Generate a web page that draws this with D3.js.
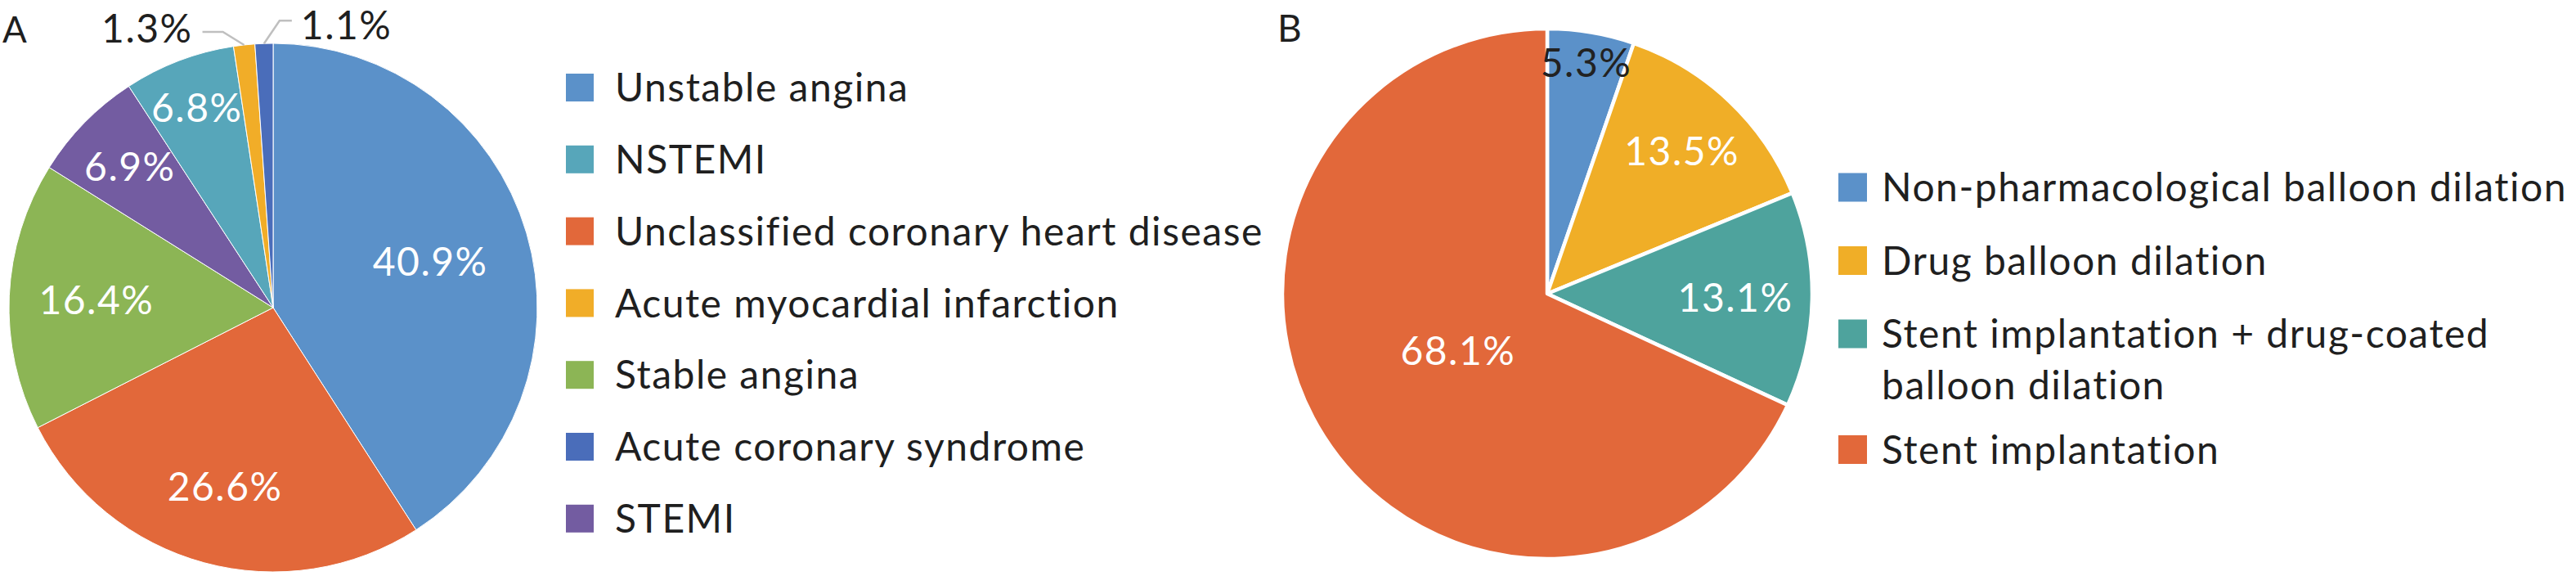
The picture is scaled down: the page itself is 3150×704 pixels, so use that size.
<!DOCTYPE html>
<html>
<head>
<meta charset="utf-8">
<script src="https://cdn.jsdelivr.net/npm/d3@7"></script>
<style>
  html, body { margin: 0; padding: 0; background: #fff; }
  svg text { font-family: Lato, "Open Sans", sans-serif; fill: #1f1f1f; letter-spacing: 1.5px; }
</style>
</head>
<body>
<svg id="chart" width="3150" height="704"></svg>
<script>
// panel A: diagnosis
const categoriesA = ['Unstable angina', 'Unclassified coronary heart disease', 'Stable angina',
	'STEMI', 'NSTEMI', 'Acute myocardial infarction', 'Acute coronary syndrome'];
const valuesA = [40.9, 26.6, 16.4, 6.9, 6.8, 1.3, 1.1];
const legendA = ['Unstable angina', 'NSTEMI', 'Unclassified coronary heart disease',
	'Acute myocardial infarction', 'Stable angina', 'Acute coronary syndrome', 'STEMI'];

// panel B: procedure
const categoriesB = ['Non-pharmacological balloon dilation', 'Drug balloon dilation',
	'Stent implantation + drug-coated balloon dilation', 'Stent implantation'];
const valuesB = [5.3, 13.5, 13.1, 68.1];
const legendB = categoriesB;
const legendLinesB = [['Non-pharmacological balloon dilation'], ['Drug balloon dilation'],
	['Stent implantation + drug-coated', 'balloon dilation'], ['Stent implantation']];

const colorsA = ['#5b91c9', '#e2683a', '#8cb555', '#735ca1', '#57a6ba', '#f1ad28', '#4a6dba'];
const colorsB = ['#5b91c9', '#f0ae27', '#4ea39d', '#e2683a'];

const W = 3150;
const svg = d3.select('#chart');
const fmt = d3.format('.1f');

function drawPie(opt) {
	const color = d3.scaleOrdinal(opt.categories, opt.colors);
	const data = opt.categories.map((c, i) => ({name: c, value: opt.values[i]}));
	const pie = d3.pie().sort(null).value(d => d.value);
	const arc = d3.arc().innerRadius(0).outerRadius(opt.r);
	const arcs = pie(data);

	const g = svg.append('g').attr('transform', 'translate(' + opt.cx + ',' + opt.cy + ')');
	g.selectAll('path.slice')
		.data(arcs)
		.enter().append('path')
		.attr('class', 'slice')
		.attr('d', arc)
		.attr('fill', d => color(d.data.name))
		.attr('stroke', '#fff')
		.attr('stroke-width', opt.strokeWidth)
		.attr('stroke-linejoin', 'round');

	arcs.forEach((d, i) => {
		const mid = (d.startAngle + d.endAngle) / 2;
		const lab = opt.labels[i];
		const txt = fmt(d.data.value) + '%';
		if (lab.leader) {
			// label outside the pie with a grey leader line
			const p0 = [Math.sin(mid) * opt.r, -Math.cos(mid) * opt.r];
			const p1 = [p0[0] + lab.leader[0], p0[1] + lab.leader[1]];
			const p2 = [p1[0] + lab.run, p1[1]];
			g.append('path')
				.attr('d', d3.line()([p0, p1, p2]))
				.attr('fill', 'none')
				.attr('stroke', '#bfbfbf')
				.attr('stroke-width', 2.5);
			g.append('text')
				.attr('x', p2[0] + (lab.run < 0 ? -12 : 11))
				.attr('y', p2[1] + lab.dy)
				.attr('dy', '0.36em')
				.attr('text-anchor', lab.run < 0 ? 'end' : 'start')
				.style('font-size', opt.labelSize + 'px')
				.text(txt);
		} else {
			const rr = opt.r * lab.k;
			g.append('text')
				.attr('x', Math.sin(mid) * rr)
				.attr('y', -Math.cos(mid) * rr)
				.attr('dy', '0.36em')
				.attr('text-anchor', 'middle')
				.style('font-size', opt.labelSize + 'px')
				.style('fill', lab.dark ? '#222' : '#fff')
				.text(txt);
		}
	});

	// legend
	const lg = svg.append('g').attr('transform', 'translate(' + opt.legendX + ',' + opt.legendY + ')');
	let y = 0;
	opt.legend.forEach((name, i) => {
		const lines = opt.legendLines ? opt.legendLines[i] : [name];
		lg.append('rect')
			.attr('x', 0)
			.attr('y', y - opt.sw / 2)
			.attr('width', opt.sw)
			.attr('height', opt.sw)
			.attr('fill', color(name));
		const t = lg.append('text')
			.attr('class', 'legend-text')
			.attr('x', opt.sw + opt.gap)
			.attr('y', y)
			.style('font-size', opt.legendSize + 'px');
		lines.forEach((ln, j) => {
			t.append('tspan')
				.attr('x', opt.sw + opt.gap)
				.attr('dy', j === 0 ? '0.36em' : opt.lineH)
				.text(ln);
		});
		// keep long entries inside the page
		const room = W - 8 - opt.legendX - opt.sw - opt.gap;
		const len = t.node().getBBox().width;
		if (len > room) t.style('font-size', (opt.legendSize * room / len) + 'px');
		y += opt.step + (lines.length - 1) * opt.extraLine;
	});
}

drawPie({
	categories: categoriesA, values: valuesA, colors: colorsA, legend: legendA,
	cx: 334, cy: 376, r: 323, strokeWidth: 1,
	labelSize: 48,
	labels: [{k: 0.62}, {k: 0.70}, {k: 0.67}, {k: 0.76}, {k: 0.81},
		{leader: [-26, -16], run: -25, dy: -4}, {leader: [19, -28], run: 15, dy: 6}],
	legendX: 692, legendY: 107, sw: 34, gap: 26, step: 87.8, extraLine: 0, legendSize: 48
});

drawPie({
	categories: categoriesB, values: valuesB, colors: colorsB, legend: legendB, legendLines: legendLinesB,
	cx: 1892, cy: 359, r: 324, strokeWidth: 4.5,
	labelSize: 48,
	labels: [{k: 0.885, dark: true}, {k: 0.74}, {k: 0.71}, {k: 0.40}],
	legendX: 2248, legendY: 229, sw: 35, gap: 18, step: 89.5, extraLine: 52, lineH: 63, legendSize: 48
});

// panel letters
svg.append('text').attr('x', 3).attr('y', 52).style('font-size', '44px').text('A');
svg.append('text').attr('x', 1562).attr('y', 51).style('font-size', '46px').text('B');
</script>
</body>
</html>
